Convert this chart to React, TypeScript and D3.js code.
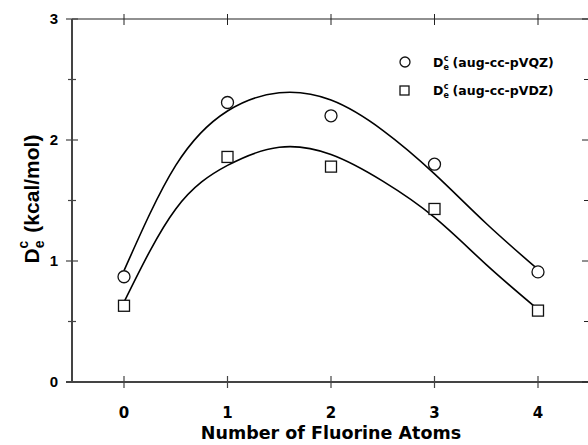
import React, { useRef, useEffect } from 'react';
import * as d3 from 'd3';

// measured points
const atoms = [0, 1, 2, 3, 4];
const vqz = [0.87, 2.31, 2.2, 1.8, 0.91];
const vdz = [0.63, 1.86, 1.78, 1.43, 0.59];

// fitted curves, every half step
const fitX = [0, 0.5, 1, 1.5, 2, 2.5, 3, 3.5, 4];
const fitVqz = [0.92, 1.79, 2.24, 2.39, 2.33, 2.08, 1.72, 1.31, 0.93];
const fitVdz = [0.66, 1.43, 1.79, 1.94, 1.88, 1.66, 1.36, 0.97, 0.6];

const yMajor = [0, 1, 2, 3];
const yMinor = [0.5, 1.5, 2.5];

export default function App() {
  const svgRef = useRef<SVGSVGElement>(null);

  useEffect(() => {
    const svg = d3.select(svgRef.current);
    svg.selectAll('*').remove();

    const left = 72, right = 588, top = 19, bottom = 382;
    const x = d3.scaleLinear().domain([0, 4]).range([124, 538]);
    const y = d3.scaleLinear().domain([0, 3]).range([bottom, top]);

    const axisCol = '#444';
    // frame
    svg.append('line').attr('x1', left).attr('x2', right).attr('y1', top).attr('y2', top)
      .attr('stroke', '#222').attr('stroke-width', 1.2);
    svg.append('line').attr('x1', 66).attr('x2', right).attr('y1', bottom).attr('y2', bottom)
      .attr('stroke', axisCol).attr('stroke-width', 2);
    svg.append('line').attr('x1', left).attr('x2', left).attr('y1', top).attr('y2', bottom)
      .attr('stroke', axisCol).attr('stroke-width', 2);

    // y ticks left + right
    yMajor.forEach(v => {
      svg.append('line').attr('x1', 66).attr('x2', 78).attr('y1', y(v)).attr('y2', y(v))
        .attr('stroke', axisCol).attr('stroke-width', 1.2);
      svg.append('line').attr('x1', 582).attr('x2', 588).attr('y1', y(v)).attr('y2', y(v))
        .attr('stroke', '#222').attr('stroke-width', 1);
      svg.append('text').attr('x', 58).attr('y', y(v)).attr('dy', '0.36em')
        .attr('text-anchor', 'end').attr('font-family', 'Liberation Sans, Arial, sans-serif')
        .attr('font-weight', 'bold').attr('font-size', 15).text(String(v));
    });
    yMinor.forEach(v => {
      svg.append('line').attr('x1', 68).attr('x2', 76).attr('y1', y(v)).attr('y2', y(v))
        .attr('stroke', axisCol).attr('stroke-width', 1.2);
      svg.append('line').attr('x1', 584).attr('x2', 588).attr('y1', y(v)).attr('y2', y(v))
        .attr('stroke', '#222').attr('stroke-width', 1);
    });

    // x ticks bottom + top
    atoms.forEach(v => {
      svg.append('line').attr('x1', x(v)).attr('x2', x(v)).attr('y1', bottom - 6).attr('y2', bottom + 6)
        .attr('stroke', axisCol).attr('stroke-width', 1.2);
      svg.append('line').attr('x1', x(v)).attr('x2', x(v)).attr('y1', top - 5).attr('y2', top + 6)
        .attr('stroke', '#222').attr('stroke-width', 1);
      svg.append('text').attr('x', x(v)).attr('y', 418).attr('text-anchor', 'middle')
        .attr('font-family', 'DejaVu Sans, Verdana, sans-serif').attr('font-weight', 'bold')
        .attr('font-size', 15).text(String(v));
    });

    // axis titles
    svg.append('text').attr('x', 331).attr('y', 439).attr('text-anchor', 'middle')
      .attr('font-family', 'DejaVu Sans, Verdana, sans-serif').attr('font-weight', 'bold')
      .attr('font-size', 17.5).text('Number of Fluorine Atoms');

    const yt = svg.append('text').attr('transform', 'translate(39,199) rotate(-90)')
      .attr('text-anchor', 'middle').attr('font-family', 'Liberation Sans, Arial, sans-serif')
      .attr('font-weight', 'bold').attr('font-size', 21);
    yt.append('tspan').text('D');
    yt.append('tspan').attr('font-size', 14).attr('dy', 5).text('e');
    yt.append('tspan').attr('font-size', 14).attr('dx', -8).attr('dy', -16).text('c');
    yt.append('tspan').attr('dy', 11).attr('dx', 8).text('(kcal/mol)');

    // fitted curves
    const line = d3.line<number>().x((_, i) => x(fitX[i])).y(d => y(d)).curve(d3.curveNatural);
    [fitVqz, fitVdz].forEach(s => {
      svg.append('path').attr('d', line(s)).attr('fill', 'none')
        .attr('stroke', '#000').attr('stroke-width', 1.6);
    });

    // markers
    atoms.forEach((a, i) => {
      svg.append('circle').attr('cx', x(a)).attr('cy', y(vqz[i])).attr('r', 6)
        .attr('fill', 'white').attr('stroke', '#111').attr('stroke-width', 1.3);
      svg.append('rect').attr('x', x(a) - 5.5).attr('y', y(vdz[i]) - 5.5).attr('width', 11).attr('height', 11)
        .attr('fill', 'white').attr('stroke', '#111').attr('stroke-width', 1.3);
    });

    // legend
    const lg = svg.append('g').attr('font-family', 'DejaVu Sans, Verdana, sans-serif')
      .attr('font-weight', 'bold').attr('font-size', 12.5);
    lg.append('circle').attr('cx', 405).attr('cy', 62).attr('r', 5)
      .attr('fill', 'white').attr('stroke', '#111').attr('stroke-width', 1.3);
    lg.append('rect').attr('x', 400).attr('y', 86).attr('width', 9).attr('height', 9)
      .attr('fill', 'white').attr('stroke', '#111').attr('stroke-width', 1.3);
    const labels = ['(aug-cc-pVQZ)', '(aug-cc-pVDZ)'];
    labels.forEach((l, i) => {
      const t = lg.append('text').attr('x', 433).attr('y', 67 + i * 28);
      t.append('tspan').text('D');
      t.append('tspan').attr('font-size', 8).attr('dy', 3).text('e');
      t.append('tspan').attr('font-size', 8).attr('dx', -5).attr('dy', -9).text('c');
      t.append('tspan').attr('dy', 6).attr('dx', 4).text(l);
    });
  }, []);

  return (
    <svg ref={svgRef} width={588} height={445}
      style={{ position: 'absolute', left: 0, top: 0, background: 'white' }} />
  );
}
